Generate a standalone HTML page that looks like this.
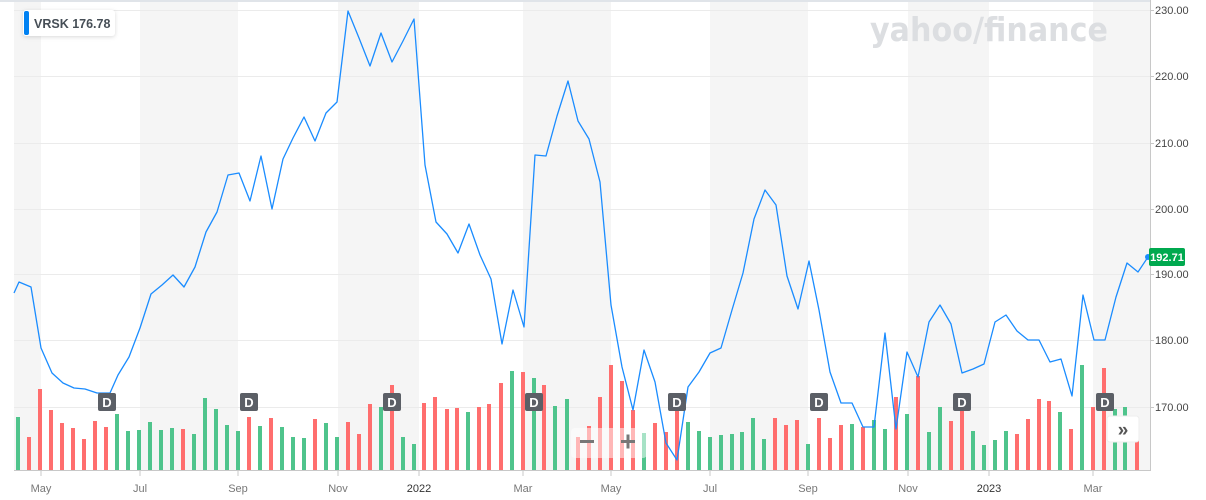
<!DOCTYPE html>
<html><head><meta charset="utf-8"><style>
html,body{margin:0;padding:0;background:#fff;}
body{width:1206px;height:500px;overflow:hidden;position:relative;font-family:"Liberation Sans",sans-serif;}
svg{position:absolute;left:0;top:0;}
</style></head><body>
<svg width="1206" height="500" xmlns="http://www.w3.org/2000/svg" font-family="Liberation Sans, sans-serif">
<g fill="#f5f5f5">
<rect x="14" y="1" width="27" height="470"/>
<rect x="140" y="1" width="98" height="470"/>
<rect x="338" y="1" width="81" height="470"/>
<rect x="523" y="1" width="88" height="470"/>
<rect x="710" y="1" width="98" height="470"/>
<rect x="908" y="1" width="81" height="470"/>
<rect x="1093" y="1" width="57" height="470"/>
</g>
<line x1="0" y1="1" x2="1150" y2="1" stroke="#e0e4e9" stroke-width="2"/>
<g stroke="#ebebeb" stroke-width="1">
<line x1="14" y1="10.5" x2="1150" y2="10.5"/>
<line x1="14" y1="76.5" x2="1150" y2="76.5"/>
<line x1="14" y1="143.5" x2="1150" y2="143.5"/>
<line x1="14" y1="209.5" x2="1150" y2="209.5"/>
<line x1="14" y1="274.5" x2="1150" y2="274.5"/>
<line x1="14" y1="340.5" x2="1150" y2="340.5"/>
<line x1="14" y1="407.5" x2="1150" y2="407.5"/>
</g>
<text x="870" y="41" font-size="33" font-weight="bold" fill="#dcdee1" font-family="DejaVu Sans, sans-serif" textLength="238" lengthAdjust="spacingAndGlyphs">yahoo/finance</text>
<g id="bars"></g>
<polyline fill="none" stroke="#1a8cff" stroke-width="1.3" stroke-linejoin="round" points="14,293 19,282 31,287 41,348 52,373 63,383 74,388 85,389 97,393 110,393 118,375 129,357 140,328 151,294 162,285 173,275 184,287 195,267 206,232 217,212 228,175 239,173 250,201 261,156 272,209 283,159 293,138 304,117 315,141 326,113 337,102 348,11 359,38 370,66 381,33 392,62 403,41 414,19 425,165 436,222 447,234 458,253 469,224 480,255 491,279 502,344 513,290 524,327 535,155 546,156 557,116 568,81 578,121 589,139 600,182 611,305 622,367 633,410 644,350 655,382 666,443 677,460 688,387 699,372 710,353 721,348 732,310 743,273 754,219 765,190 776,205 787,276 798,309 809,261 819,310 830,372 841,403 852,403 863,427 874,427 885,333 896,429 907,352 918,377 929,322 940,305 951,324 962,373 973,369 984,364 995,322 1006,315 1017,331 1028,340 1039,340 1050,362 1061,359 1072,396 1083,295 1094,340 1105,340 1116,297 1127,263 1138,272 1148,257"/>
<circle cx="1148" cy="257" r="3" fill="#1a8cff"/>
<line x1="14" y1="470.5" x2="1150" y2="470.5" stroke="#c8c8c8"/>
<line x1="1150.5" y1="0" x2="1150.5" y2="471" stroke="#c8c8c8"/>
<g stroke="#c8c8c8">
<line x1="41" y1="471" x2="41" y2="476"/><line x1="140" y1="471" x2="140" y2="476"/><line x1="238" y1="471" x2="238" y2="476"/><line x1="338" y1="471" x2="338" y2="476"/><line x1="419" y1="471" x2="419" y2="476"/><line x1="523" y1="471" x2="523" y2="476"/><line x1="611" y1="471" x2="611" y2="476"/><line x1="710" y1="471" x2="710" y2="476"/><line x1="808" y1="471" x2="808" y2="476"/><line x1="908" y1="471" x2="908" y2="476"/><line x1="989" y1="471" x2="989" y2="476"/><line x1="1093" y1="471" x2="1093" y2="476"/>
<line x1="1150" y1="10.5" x2="1154" y2="10.5"/><line x1="1150" y1="76.5" x2="1154" y2="76.5"/><line x1="1150" y1="143.5" x2="1154" y2="143.5"/><line x1="1150" y1="209.5" x2="1154" y2="209.5"/><line x1="1150" y1="274.5" x2="1154" y2="274.5"/><line x1="1150" y1="340.5" x2="1154" y2="340.5"/><line x1="1150" y1="407.5" x2="1154" y2="407.5"/>
</g>
<g font-size="11" fill="#777" text-anchor="middle">
<text x="41" y="492">May</text><text x="140" y="492">Jul</text><text x="238" y="492">Sep</text><text x="338" y="492">Nov</text>
<text x="419" y="492" fill="#333">2022</text><text x="523" y="492">Mar</text><text x="611" y="492">May</text><text x="710" y="492">Jul</text>
<text x="808" y="492">Sep</text><text x="908" y="492">Nov</text><text x="989" y="492" fill="#333">2023</text><text x="1093" y="492">Mar</text>
</g>
<g font-size="11" fill="#464646">
<text x="1155" y="14">230.00</text><text x="1155" y="80">220.00</text><text x="1155" y="147">210.00</text><text x="1155" y="213">200.00</text><text x="1155" y="278">190.00</text><text x="1155" y="344">180.00</text><text x="1155" y="411">170.00</text>
</g>
<rect x="1149" y="248" width="36" height="18" rx="2" fill="#00a94f"/>
<text x="1167" y="261" font-size="11" fill="#fff" text-anchor="middle" font-weight="bold">192.71</text>
<g id="dmarks"></g>
<rect x="571" y="428" width="76" height="30" rx="4" fill="#fff" opacity="0.5"/>
<rect x="580" y="440" width="14" height="3" fill="#777"/>
<rect x="621" y="440" width="14" height="3" fill="#777"/><rect x="626.5" y="434.5" width="3" height="14" fill="#777"/>
<rect x="1107" y="416" width="32" height="26" rx="3" fill="#fff" stroke="#eee"/>
<text x="1123" y="436" font-size="19" fill="#555" text-anchor="middle" font-weight="bold">»</text>
<rect x="23" y="10" width="92" height="26" rx="3" fill="#fff" style="filter:drop-shadow(0 1px 2px rgba(0,0,0,0.15))"/>
<rect x="24" y="11" width="5" height="24" rx="2" fill="#0081f2"/>
<text x="34" y="28" font-size="12.5" fill="#464e56" font-weight="bold">VRSK  176.78</text>
</svg>
<script>
var bars=[[18,'G',417],[29,'R',437],[40,'R',389],[51,'R',410],[62,'R',423],[73,'R',428],[84,'R',439],[95,'R',421],[106,'R',427],[117,'G',414],[128,'G',431],[139,'G',430],[150,'G',422],[161,'G',430],[172,'G',428],[183,'R',429],[194,'G',434],[205,'G',398],[216,'G',409],[227,'G',425],[238,'G',431],[249,'R',417],[260,'G',426],[271,'R',418],[282,'G',427],[293,'G',437],[304,'G',438],[315,'R',419],[326,'G',423],[337,'G',437],[348,'R',422],[359,'R',434],[370,'R',404],[381,'G',407],[392,'R',385],[403,'G',437],[414,'G',444],
[424,'R',403],[435,'R',397],[447,'R',409],[457,'R',408],[468,'G',412],[479,'R',407],[489,'R',404],[501,'R',383],[512,'G',371],[523,'R',372],[534,'G',378],[544,'R',385],[555,'G',406],[567,'G',399],[578,'R',437],[589,'R',426],[600,'R',397],[611,'R',365],[622,'R',381],[633,'R',410],[644,'G',433],[655,'R',423],[666,'R',432],[677,'R',410],[688,'G',422],[699,'G',431],[710,'G',437],[721,'G',435],[732,'G',434],[742,'G',432],[753,'G',418],[764,'G',439],[775,'R',418],[786,'R',425],[797,'R',420],
[808,'G',444],[819,'R',418],[830,'R',438],[841,'R',425],[852,'G',424],[863,'R',427],[874,'G',420],[885,'G',429],[896,'R',397],[907,'G',414],[918,'R',376],[929,'G',432],[940,'G',407],[951,'R',421],[962,'R',407],[973,'G',431],[984,'G',445],[995,'G',440],[1006,'G',431],[1017,'R',434],[1028,'R',419],[1039,'R',399],[1049,'R',401],[1060,'G',412],[1071,'R',429],[1082,'G',365],[1093,'R',407],[1104,'R',368],[1115,'G',409],[1125,'G',407],[1137,'R',441]];
var ns='http://www.w3.org/2000/svg',g=document.getElementById('bars');
bars.forEach(function(b){var r=document.createElementNS(ns,'rect');r.setAttribute('x',b[0]-2);r.setAttribute('y',b[2]);r.setAttribute('width',4);r.setAttribute('height',470-b[2]);r.setAttribute('fill',b[1]=='G'?'#4fc48c':'#ff6e6e');g.appendChild(r);});
var d=document.getElementById('dmarks');
[107,249,392,534,677,819,962,1105].forEach(function(x){var r=document.createElementNS(ns,'rect');r.setAttribute('x',x-9);r.setAttribute('y',393);r.setAttribute('width',18);r.setAttribute('height',18);r.setAttribute('rx',2);r.setAttribute('fill','#5b5f66');d.appendChild(r);var t=document.createElementNS(ns,'text');t.setAttribute('x',x);t.setAttribute('y',407);t.setAttribute('font-size','13');t.setAttribute('font-weight','bold');t.setAttribute('fill','#fff');t.setAttribute('text-anchor','middle');t.textContent='D';d.appendChild(t);});
</script>
</body></html>
